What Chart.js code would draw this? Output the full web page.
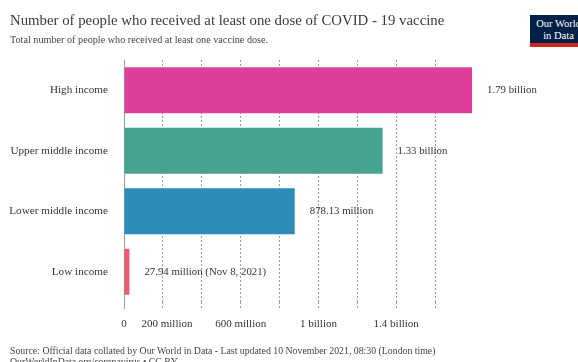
<!DOCTYPE html>
<html>
<head>
<meta charset="utf-8">
<script src="https://cdn.jsdelivr.net/npm/chart.js@4.4.0/dist/chart.umd.min.js"></script>
<style>
  html, body { margin: 0; padding: 0; background: #fff; }
  #wrap { position: relative; width: 578px; height: 362px; overflow: hidden; font-family: "Liberation Serif", serif; }
  #chart { position: absolute; left: 0; top: 0; }
  .title { position: absolute; left: 10px; top: 12px; font-size: 14.8px; color: #3a3a3a; white-space: nowrap; }
  .subtitle { position: absolute; left: 10px; top: 34px; font-size: 10.2px; color: #444; white-space: nowrap; }
  .logo { position: absolute; left: 530px; top: 15px; width: 57px; height: 25px; background: #002147;
          border-bottom: 4px solid #ce261e; color: #fff; font-size: 10.5px; line-height: 12px;
          text-align: center; padding-top: 3px; box-sizing: content-box; }
  .source { position: absolute; left: 10px; top: 345px; font-size: 9.8px; line-height: 11px; color: #444; white-space: nowrap; }
</style>
</head>
<body>
<div id="wrap">
  <canvas id="chart" width="578" height="362"></canvas>
  <div class="title">Number of people who received at least one dose of COVID - 19 vaccine</div>
  <div class="subtitle">Total number of people who received at least one vaccine dose.</div>
  <div class="logo">Our World<br>in Data</div>
  <div class="source">Source: Official data collated by Our World in Data - Last updated 10 November 2021, 08:30 (London time)<br>OurWorldInData.org/coronavirus • CC BY</div>
</div>
<script>
// ---------------------------------------------------------------------
// Data
// ---------------------------------------------------------------------
const categories = ["High income", "Upper middle income", "Lower middle income", "Low income"];
const peopleVaccinated = [1.79e9, 1.33e9, 878.13e6, 27.94e6];
const valueLabels = ["1.79 billion", "1.33 billion", "878.13 million", "27.94 million (Nov 8, 2021)"];
const tickValues = [0, 2e8, 6e8, 1e9, 1.4e9];
const tickLabels = ["0", "   200 million", "600 million", "1 billion", "1.4 billion"];

const BAR_COLORS = ["#df3e9b", "#46a291", "#2c8cb8", "#ef5a72"];
const FONT = "Liberation Serif";
const GRID_COLOR = "#9a9a9a";
const X_MAX = 1.8e9;

// value text to the right of each bar
const valueLabelPlugin = {
  id: "valueLabels",
  afterDatasetsDraw(chart) {
    const { ctx } = chart;
    const meta = chart.getDatasetMeta(0);
    ctx.save();
    ctx.font = `10.8px "${FONT}"`;
    ctx.fillStyle = "#333";
    ctx.textAlign = "left";
    ctx.textBaseline = "middle";
    meta.data.forEach((bar, i) => {
      ctx.fillText(valueLabels[i], bar.x + 15, bar.y);
    });
    ctx.restore();
  },
};

function tickText(value) {
  const i = tickValues.findIndex((v) => Math.abs(v - value) < 1);
  return i < 0 ? "" : tickLabels[i];
}

new Chart(document.getElementById("chart"), {
  type: "bar",
  data: {
    labels: categories,
    datasets: [
      {
        data: peopleVaccinated,
        backgroundColor: BAR_COLORS,
        borderWidth: 0,
        barPercentage: 0.76,
        categoryPercentage: 1,
      },
    ],
  },
  options: {
    indexAxis: "y",
    responsive: false,
    animation: false,
    layout: { padding: { top: 60, right: 104, bottom: 30, left: 0 } },
    plugins: {
      legend: { display: false },
      tooltip: { enabled: false },
    },
    scales: {
      x: {
        min: 0,
        max: X_MAX,
        afterFit(scale) { scale.height = 30; },
        ticks: {
          stepSize: 2e8,
          autoSkip: false,
          maxRotation: 0,
          padding: 9,
          color: "#333",
          font: { family: FONT, size: 11 },
          callback: (value) => tickText(value),
        },
        grid: {
          color: (c) => (c.tick && c.tick.value >= X_MAX ? "rgba(0,0,0,0)" : GRID_COLOR),
          lineWidth: 1,
          drawTicks: true,
          tickLength: 7,
          tickColor: (c) => (c.tick && c.tick.value >= X_MAX ? "rgba(0,0,0,0)" : GRID_COLOR),
          tickBorderDash: (c) => (c.index === 0 ? [] : [2, 2]),
        },
        border: {
          display: false,
          dash: (c) => (c.index === 0 ? [] : [2, 2]),
        },
      },
      y: {
        afterFit(scale) { scale.width = 124; },
        grid: { display: false, drawTicks: false },
        border: { display: false },
        ticks: {
          padding: 16,
          color: "#333",
          font: { family: FONT, size: 11.2 },
        },
      },
    },
  },
  plugins: [valueLabelPlugin],
});
</script>
</body>
</html>
